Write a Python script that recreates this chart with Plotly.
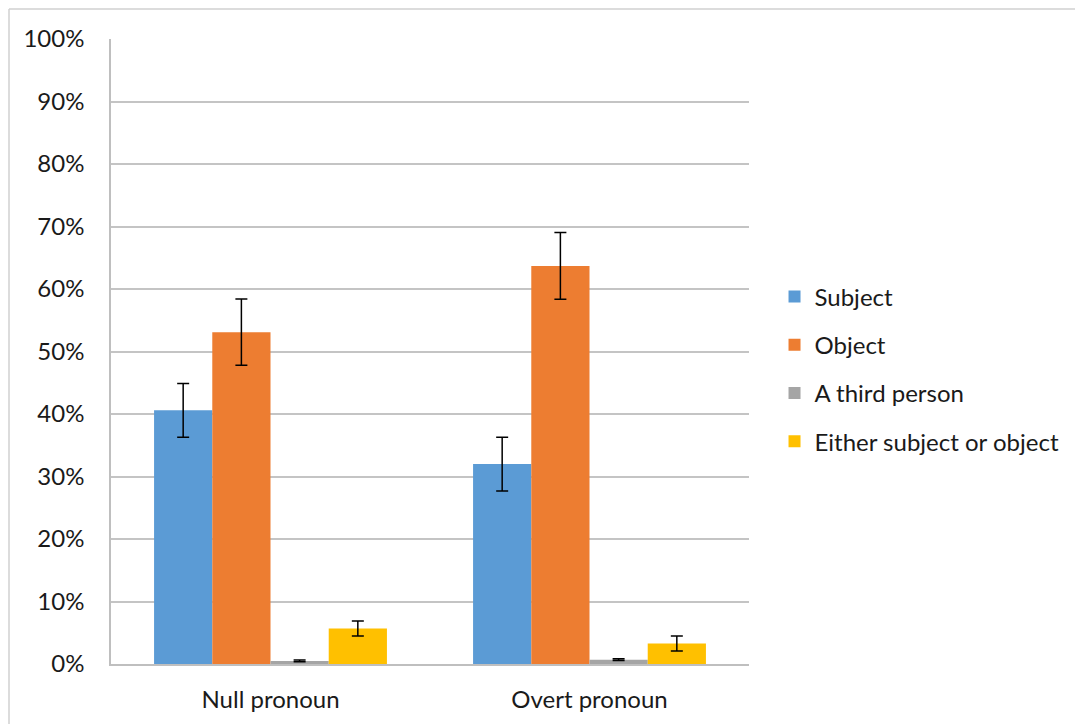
import plotly.graph_objects as go

categories = ["Null pronoun", "Overt pronoun"]
series_names = ["Subject", "Object", "A third person", "Either subject or object"]
subject = [40.6, 32.0]
object_ = [53.1, 63.7]
third = [0.5, 0.7]
either = [5.7, 3.3]
subject_err = [4.3, 4.3]
object_err = [5.3, 5.35]
third_err = [0.15, 0.15]
either_err = [1.2, 1.2]
y_ticks = [0, 10, 20, 30, 40, 50, 60, 70, 80, 90, 100]
y_tick_labels = [f"{v}%" for v in y_ticks]

colors = ["#5B9BD5", "#ED7D31", "#A5A5A5", "#FFC000"]
values = [subject, object_, third, either]
errors = [subject_err, object_err, third_err, either_err]

FONT = "Lato, Carlito, Calibri, sans-serif"
TXT = "#1a1a1a"

fig = go.Figure()
for name, vals, errs, col in zip(series_names, values, errors, colors):
    fig.add_trace(go.Bar(
        name=name, x=categories, y=vals,
        marker=dict(color=col, line=dict(width=0)),
        error_y=dict(type="data", array=errs, visible=True,
                     color="#000000", thickness=1.5, width=6),
        legendgroup=name,
    ))

bx0 = (1 - 103) / 638
by1 = 1 + 30 / 625
fig.update_layout(
    width=1075, height=716,
    margin=dict(l=103, r=334, t=31, b=60),
    paper_bgcolor="white", plot_bgcolor="white",
    barmode="group", bargap=0.27, bargroupgap=0,
    font=dict(family=FONT, size=24, color=TXT),
    showlegend=True,
    legend=dict(x=1.040, y=0.472, xanchor="left", yanchor="middle",
                font=dict(family=FONT, size=24, color=TXT),
                tracegroupgap=14, itemwidth=30,
                bgcolor="rgba(0,0,0,0)"),
    xaxis=dict(showgrid=False, showline=True, linecolor="#BFBFBF", linewidth=1.5,
               ticks="", tickfont=dict(size=24, color=TXT), ticklabelstandoff=13),
    yaxis=dict(range=[0, 100], tickvals=y_ticks, ticktext=y_tick_labels,
               showgrid=True, gridcolor="#C4C4C4", gridwidth=1.5,
               showline=True, linecolor="#BFBFBF", linewidth=1.5,
               zeroline=False, ticks="", tickfont=dict(size=24, color=TXT),
               ticklabelstandoff=20),
    shapes=[
        dict(type="line", xref="paper", yref="paper",
             x0=bx0, x1=2.0, y0=by1, y1=by1,
             line=dict(color="#D0D0D0", width=1.5), layer="below"),
        dict(type="line", xref="paper", yref="paper",
             x0=bx0, x1=bx0, y0=-0.5, y1=by1,
             line=dict(color="#D0D0D0", width=1.5), layer="below"),
    ],
)

fig.write_html("out.html")
